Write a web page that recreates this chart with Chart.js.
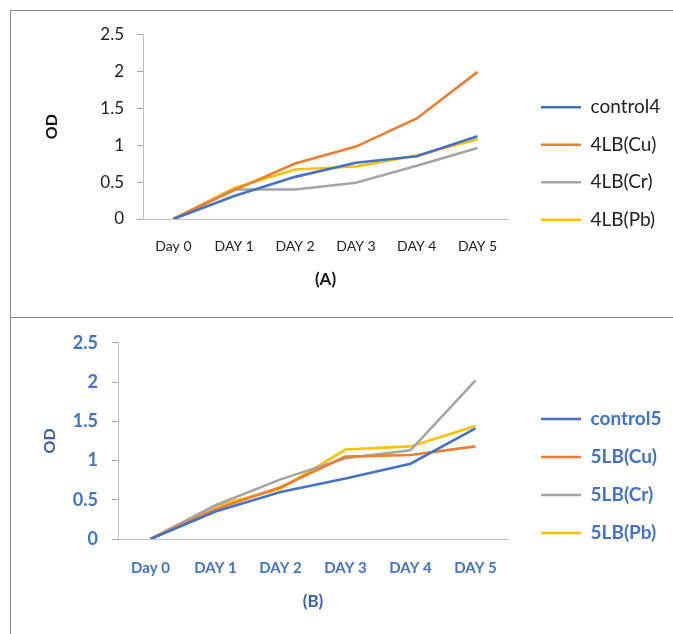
<!DOCTYPE html>
<html>
<head>
<meta charset="utf-8">
<script src="https://cdn.jsdelivr.net/npm/chart.js@4.4.1/dist/chart.umd.min.js"></script>
<style>
  html, body { margin: 0; padding: 0; background: #fff; overflow: hidden; width: 673px; height: 634px; }
  #frame { position: absolute; left: 10px; top: 10px; width: 700px; height: 700px; border-left: 1px solid #8a8a8a; border-top: 1px solid #8a8a8a; }
  #divider { position: absolute; left: 10px; top: 317px; width: 680px; height: 1px; background: #8a8a8a; }
  canvas { position: absolute; }
  #chartA { left: 11px; top: 11px; }
  #chartB { left: 11px; top: 318px; }
</style>
</head>
<body>
<div id="frame"></div>
<div id="divider"></div>
<canvas id="chartA" width="662" height="305"></canvas>
<canvas id="chartB" width="662" height="316"></canvas>
<script>
    const days = ['Day 0', 'DAY 1', 'DAY 2', 'DAY 3', 'DAY 4', 'DAY 5'];
    const yTicks = [0, 0.5, 1, 1.5, 2, 2.5];

    // panel A
    const namesA = ['control4', '4LB(Cu)', '4LB(Cr)', '4LB(Pb)'];
    const control4 = [0, 0.31, 0.57, 0.76, 0.85, 1.12];
    const cu4 = [0, 0.39, 0.75, 0.98, 1.36, 1.99];
    const cr4 = [0, 0.40, 0.40, 0.49, 0.72, 0.96];
    const pb4 = [0, 0.42, 0.67, 0.71, 0.86, 1.08];

    // panel B
    const namesB = ['control5', '5LB(Cu)', '5LB(Cr)', '5LB(Pb)'];
    const control5 = [0, 0.35, 0.60, 0.77, 0.96, 1.41];
    const cu5 = [0, 0.38, 0.66, 1.05, 1.07, 1.18];
    const cr5 = [0, 0.43, 0.76, 1.03, 1.13, 2.02];
    const pb5 = [0, 0.42, 0.64, 1.14, 1.18, 1.44];

    const colors = ['#4472C4', '#ED7D31', '#A5A5A5', '#FFC000'];

    function makeChart(id, names, series, o) {
        const canvas = document.getElementById(id);
        const datasets = series.map((d, i) => ({
            label: names[i], data: d, borderColor: colors[i], backgroundColor: colors[i],
            borderWidth: 2.6, tension: 0, pointRadius: 0, fill: false
        }));
        const chart = new Chart(canvas.getContext('2d'), {
            type: 'line',
            data: { labels: days, datasets },
            options: {
                responsive: false, animation: false,
                layout: { padding: { left: 0, right: 0, top: 0, bottom: 0 } },
                scales: {
                    x: {
                        offset: true,
                        grid: { display: false, drawTicks: false },
                        border: { display: true, color: '#bfbfbf', width: 1 },
                        ticks: { color: o.tickColor, font: { family: 'Lato', size: o.xTickSize, weight: o.weight }, padding: o.xTickPad, maxRotation: 0, autoSkip: false },
                        title: { display: true, text: o.xTitle, color: o.titleColor, font: { family: 'Lato', size: 17, weight: 'bold' }, padding: { top: 0, bottom: o.xTitlePad } },
                        afterFit: s => { s.height = o.xHeight; }
                    },
                    y: {
                        min: 0, max: 2.5,
                        afterBuildTicks: s => { s.ticks = yTicks.map(v => ({ value: v })); },
                        grid: { drawOnChartArea: false, drawTicks: true, tickLength: 6, color: '#a6a6a6' },
                        border: { display: true, color: '#bfbfbf', width: 1 },
                        ticks: { color: o.tickColor, font: { family: 'Lato', size: o.yTickSize, weight: o.weight }, padding: o.yTickPad, callback: v => String(v) },
                        title: { display: true, text: 'OD', color: o.titleColor, font: { family: 'Lato', size: 16, weight: 'bold' }, padding: { top: o.yTitlePad, bottom: 0 } },
                        afterFit: s => { s.width = o.yWidth; }
                    },
                    gap: {
                        type: 'linear', position: 'right', display: true,
                        grid: { display: false, drawTicks: false }, border: { display: false },
                        ticks: { display: false },
                        afterFit: s => { s.width = o.gap; }
                    }
                },
                plugins: {
                    title: { display: true, text: '', padding: 0, font: { size: 23, lineHeight: 1 } },
                    legend: {
                        display: true, position: 'right', maxWidth: 300,
                        labels: {
                            usePointStyle: true, pointStyle: 'line', pointStyleWidth: 40,
                            padding: o.legendPad, color: o.legendColor,
                            font: { family: 'Lato', size: 19, weight: o.weight }
                        }
                    },
                    tooltip: { enabled: false }
                }
            }
        });
        // push the legend box so its left edge sits where the reference has it
        chart.options.layout.padding.right = Math.max(0, canvas.width - o.legendLeft - chart.legend.width);
        chart.update();
        return chart;
    }

    makeChart('chartA', namesA, [control4, cu4, cr4, pb4], {
        legendLeft: 511.5, legendPad: 18.5, gap: 14.5,
        xHeight: 97, xTickPad: 19, xTickSize: 14, xTitle: '(A)', xTitlePad: 26,
        yWidth: 132, yTickPad: 13, yTickSize: 17, yTitlePad: 31,
        weight: 'normal', tickColor: '#222', titleColor: '#111', legendColor: '#222'
    });

    makeChart('chartB', namesB, [control5, cu5, cr5, pb5], {
        legendLeft: 511, legendPad: 19, gap: 14,
        xHeight: 95, xTickPad: 20, xTickSize: 15, xTitle: '(B)', xTitlePad: 22,
        yWidth: 107, yTickPad: 14, yTickSize: 18, yTitlePad: 29,
        weight: 'bold', tickColor: '#4472C4', titleColor: '#3B5EA6', legendColor: '#4472C4'
    });
</script>
</body>
</html>
